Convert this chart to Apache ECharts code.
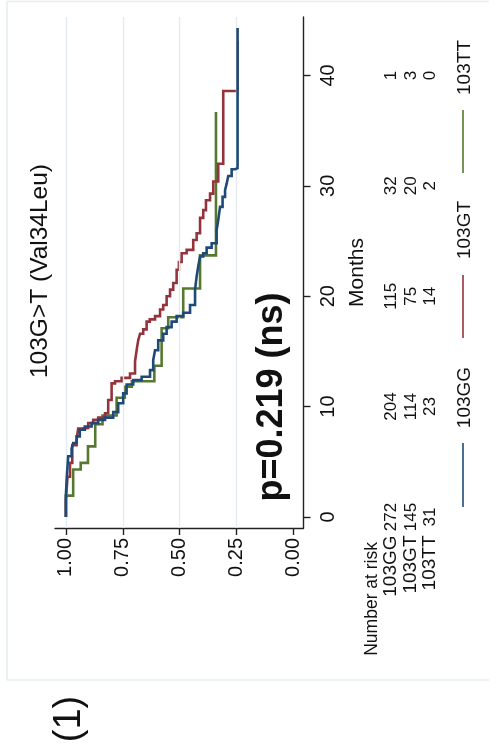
<!DOCTYPE html>
<html>
<head>
<meta charset="utf-8">
<script src="https://cdn.jsdelivr.net/npm/echarts@6/dist/echarts.min.js"></script>
<style>
  html, body { margin: 0; padding: 0; background: #ffffff; overflow: hidden; }
  #chart { width: 496px; height: 756px; }
</style>
</head>
<body>
<div id="chart"></div>
<script>
// Kaplan–Meier survival by 103G>T genotype, laid out on its side.
// Each group: times (months) at which survival steps down, and the new survival level.

const groupNames = ['103GG', '103GT', '103TT'];
const groupColors = ['#1f4a78', '#93343c', '#56782f'];

const ggMonths = [2.0, 3.65, 5.5, 6.2, 6.7, 7.3, 7.9, 8.2, 8.5, 8.8, 9.0, 9.5, 10.3, 11.2, 12.0, 12.4, 12.7, 13.3, 14.2, 15.1, 16.0, 16.6, 17.2, 17.7, 18.2, 18.5, 19.2, 20.6, 21.8, 22.7, 23.6, 23.9, 24.4, 24.8, 26.0, 26.9, 28.1, 29.0, 29.6, 30.2, 30.9, 31.5, 31.6];
const ggSurv   = [0.996, 0.99, 0.975, 0.968, 0.953, 0.939, 0.917, 0.887, 0.858, 0.828, 0.792, 0.77, 0.748, 0.733, 0.704, 0.667, 0.63, 0.616, 0.608, 0.594, 0.572, 0.557, 0.535, 0.513, 0.484, 0.454, 0.432, 0.425, 0.418, 0.41, 0.396, 0.381, 0.359, 0.337, 0.33, 0.322, 0.311, 0.3, 0.293, 0.286, 0.271, 0.256, 0.245];
const ggLast   = 44.3;

const gtMonths = [1.5, 3.65, 4.9, 6.5, 7.0, 8.0, 8.05, 8.5, 8.8, 9.0, 9.4, 10.6, 12.1, 12.3, 12.6, 13.0, 14.1, 15.1, 16.0, 16.6, 17.0, 17.7, 17.9, 18.2, 18.8, 19.2, 20.0, 20.6, 21.2, 22.4, 23.1, 23.9, 24.2, 25.1, 25.7, 27.1, 27.8, 28.7, 29.3, 30.4, 32.0, 38.6];
const gtSurv   = [0.993, 0.982, 0.972, 0.953, 0.946, 0.934, 0.902, 0.88, 0.858, 0.828, 0.814, 0.799, 0.784, 0.755, 0.718, 0.696, 0.689, 0.682, 0.674, 0.66, 0.645, 0.631, 0.608, 0.586, 0.572, 0.557, 0.542, 0.528, 0.513, 0.503, 0.491, 0.469, 0.44, 0.425, 0.41, 0.396, 0.384, 0.366, 0.352, 0.33, 0.308, 0.245];
const gtLast   = 43.1;

const ttMonths = [1.93, 4.3, 4.9, 6.4, 8.4, 9.2, 10.8, 11.8, 12.3, 13.7, 17.1, 18.1, 20.7, 23.7];
const ttSurv   = [0.968, 0.935, 0.903, 0.871, 0.839, 0.777, 0.741, 0.71, 0.611, 0.579, 0.55, 0.484, 0.41, 0.34];
const ttLast   = 36.7;

// Number-at-risk table
const riskMonths = [0, 10, 20, 30, 40];
const riskGG = [272, 204, 115, 32, 1];
const riskGT = [145, 114, 75, 20, 3];
const riskTT = [31, 23, 14, 2, 0];

// Axis ticks
const survTicks = [0, 0.25, 0.5, 0.75, 1];
const monthTicks = [0, 10, 20, 30, 40];

const titleText = '103G>T (Val34Leu)';
const pText = 'p=0.219 (ns)';
const panelText = '(1)';

const FONT = '"Liberation Sans", Arial, Helvetica, sans-serif';

// Build a step path: survival on x, months on y.
function kmSteps(months, surv, last) {
  const pts = [[1, 0]];
  let s = 1;
  for (let i = 0; i < months.length; i++) {
    pts.push([s, months[i]]);
    s = surv[i];
    pts.push([s, months[i]]);
  }
  pts.push([s, last]);
  return pts;
}

const chart = echarts.init(document.getElementById('chart'), null, { renderer: 'canvas' });

const curveData = [
  kmSteps(ggMonths, ggSurv, ggLast),
  kmSteps(gtMonths, gtSurv, gtLast),
  kmSteps(ttMonths, ttSurv, ttLast)
];

const series = [{
  type: 'line',
  name: 'grid',
  data: [],
  z: 1,
  silent: true,
  markLine: {
    silent: true,
    symbol: 'none',
    label: { show: false },
    lineStyle: { color: '#e2eaef', width: 1.3, type: 'solid' },
    data: survTicks.filter(v => v > 0).map(v => ({ xAxis: v }))
  }
}];
curveData.forEach((d, i) => {
  series.push({
    type: 'line',
    name: groupNames[i],
    data: d,
    z: 3 + (2 - i),
    showSymbol: false,
    silent: true,
    animation: false,
    lineStyle: { color: groupColors[i], width: 2.6, join: 'miter' },
    itemStyle: { color: groupColors[i] }
  });
});

chart.setOption({
  animation: false,
  backgroundColor: '#ffffff',
  grid: { left: 55, right: 192.5, top: 17, bottom: 228, containLabel: false },
  xAxis: {
    type: 'value',
    inverse: true,
    min: -0.045,
    max: 1.048,
    axisLine: { show: true, onZero: false, lineStyle: { color: '#222', width: 1.4 } },
    axisTick: { show: true, customValues: survTicks, length: 7, lineStyle: { color: '#222', width: 1.4 } },
    axisLabel: {
      customValues: survTicks,
      rotate: 90,
      margin: 10,
      fontSize: 20,
      fontFamily: FONT,
      color: '#111',
      formatter: v => v.toFixed(2)
    },
    splitLine: { show: false }
  },
  yAxis: {
    type: 'value',
    position: 'right',
    min: -1.0,
    max: 45.3,
    name: 'Months',
    nameLocation: 'middle',
    nameRotate: 90,
    nameGap: 25,
    nameTextStyle: { fontSize: 21, fontFamily: FONT, color: '#111' },
    axisLine: { show: true, onZero: false, lineStyle: { color: '#222', width: 1.4 } },
    axisTick: { show: true, customValues: monthTicks, length: 7, lineStyle: { color: '#222', width: 1.4 } },
    axisLabel: {
      customValues: monthTicks,
      rotate: 90,
      margin: 15,
      fontSize: 20,
      fontFamily: FONT,
      color: '#111'
    },
    splitLine: { show: false }
  },
  series: series
});

// Annotations placed relative to the month axis
const R = Math.PI / 2;
function rotText(x, y, text, size, opts) {
  opts = opts || {};
  return {
    type: 'text',
    x: x, y: y,
    rotation: R,
    silent: true,
    z: 10,
    style: {
      text: text,
      font: (opts.weight || 'normal') + ' ' + size + 'px ' + FONT,
      fill: opts.fill || '#111',
      align: opts.align || 'center',
      verticalAlign: opts.valign || 'middle'
    }
  };
}

const graphics = [];
// Outer frame: top, left and bottom edges
const frameStyle = { stroke: '#e6ecef', lineWidth: 1.5 };
[[7, 1.5, 489, 1.5], [7, 1.5, 7, 680], [7, 680, 489, 680]].forEach(s => {
  graphics.push({
    type: 'line', silent: true, z: 0,
    shape: { x1: s[0], y1: s[1], x2: s[2], y2: s[3] },
    style: frameStyle
  });
});

graphics.push(rotText(40, 271, titleText, 24.5));
graphics.push(rotText(272, 397, pText, 36, { weight: 'bold' }));
graphics.push(rotText(70, 719, panelText, 38));

// Number-at-risk table
const rowX = [391, 411, 430];
const rowData = [riskGG, riskGT, riskTT];
graphics.push(rotText(372, 542, 'Number at risk', 17.5, { align: 'right' }));
groupNames.forEach((g, i) => {
  graphics.push(rotText(rowX[i], 535.5, g, 19, { align: 'right' }));
  riskMonths.forEach((m, j) => {
    const py = chart.convertToPixel({ gridIndex: 0 }, [0, m])[1];
    graphics.push(rotText(rowX[i], py, String(rowData[i][j]), 17));
  });
});

// Legend row
const legendLines = [[507, 443], [338, 275], [173, 110]];
const legendTextY = [397.5, 230, 67.5];
groupNames.forEach((g, i) => {
  graphics.push({
    type: 'line', silent: true, z: 10,
    shape: { x1: 463, y1: legendLines[i][0], x2: 463, y2: legendLines[i][1] },
    style: { stroke: groupColors[i], lineWidth: 1.6 }
  });
  graphics.push(rotText(465, legendTextY[i], g, 19));
});

chart.setOption({ graphic: graphics });
</script>
</body>
</html>
